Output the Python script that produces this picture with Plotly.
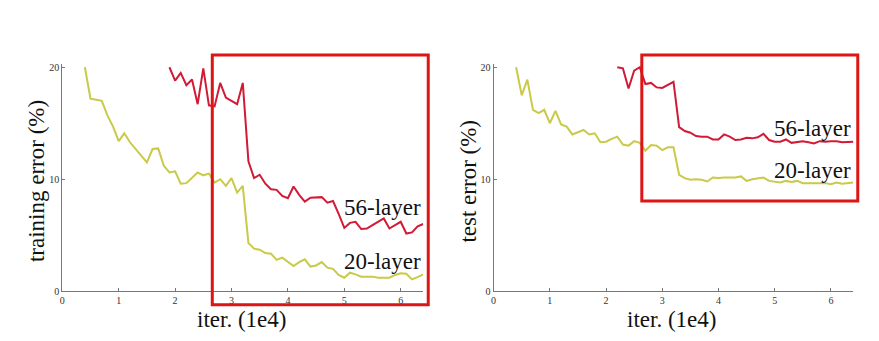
import plotly.graph_objects as go

# Iterations (x 1e4)
iters_20 = [round(0.4 + 0.1 * i, 1) for i in range(61)]      # 0.4 .. 6.4
iters_56_train = [round(1.9 + 0.1 * i, 1) for i in range(46)]  # 1.9 .. 6.4
iters_56_test = [round(2.2 + 0.1 * i, 1) for i in range(43)]   # 2.2 .. 6.4

train_20 = [20.0, 17.2, 17.1, 17.0, 15.7, 14.7, 13.4, 14.1, 13.3, 12.7,
            12.1, 11.5, 12.7, 12.75, 11.2, 10.6, 10.7, 9.6, 9.65, 10.1,
            10.6, 10.35, 10.5, 9.7, 10.0, 9.4, 10.1, 8.8, 9.4, 4.3,
            3.8, 3.7, 3.4, 3.35, 2.8, 3.0, 2.6, 2.25, 2.6, 2.85,
            2.2, 2.3, 2.6, 2.1, 2.0, 1.45, 1.2, 1.65, 1.5, 1.3,
            1.3, 1.3, 1.2, 1.2, 1.2, 1.45, 1.6, 1.55, 1.05, 1.25, 1.5]

train_56 = [20.0, 18.8, 19.5, 18.4, 18.9, 16.7, 19.9, 16.6, 16.5, 18.6,
            17.3, 17.0, 16.7, 18.6, 11.6, 10.1, 10.4, 9.6, 9.1, 9.05,
            8.5, 8.3, 9.35, 8.6, 8.0, 8.35, 8.4, 8.4, 7.9, 8.05,
            6.9, 5.65, 6.1, 6.2, 5.55, 5.6, 5.9, 6.2, 6.5, 5.6,
            5.9, 6.2, 5.15, 5.25, 5.8, 6.0]

test_20 = [20.0, 17.5, 18.9, 16.2, 15.9, 16.2, 15.0, 16.1, 14.9, 14.7,
           14.0, 14.2, 14.4, 14.0, 14.1, 13.3, 13.35, 13.6, 13.8, 13.1,
           13.0, 13.4, 13.25, 12.55, 13.05, 13.0, 12.6, 12.85, 12.85, 10.4,
           10.1, 9.95, 10.0, 9.95, 9.8, 10.15, 10.1, 10.15, 10.15, 10.15,
           10.25, 9.85, 10.0, 10.05, 10.15, 9.85, 9.8, 9.7, 9.85, 9.75,
           9.85, 9.65, 9.65, 9.65, 9.65, 9.65, 9.55, 9.7, 9.6, 9.65, 9.7]

test_56 = [20.0, 19.9, 18.1, 19.7, 20.0, 18.5, 18.6, 18.2, 18.15, 18.45,
           18.7, 14.65, 14.3, 14.15, 13.85, 13.8, 13.8, 13.55, 13.55, 14.0,
           13.8, 13.5, 13.55, 13.7, 13.65, 13.75, 14.05, 13.5, 13.35, 13.35,
           13.55, 13.25, 13.35, 13.4, 13.3, 13.2, 13.4, 13.35, 13.4, 13.4,
           13.3, 13.3, 13.35]

x_ticks = [0, 1, 2, 3, 4, 5, 6]
y_ticks = [0, 10, 20]

W, H = 879, 341
YELLOW = "#c9c94a"
RED = "#d21a36"
BOX = "#dd1515"
AXIS = "#777777"
SERIF = "Liberation Serif, Times New Roman, serif"


def px(x):
    return x / W


def py(y):
    return 1 - y / H


fig = go.Figure()

fig.add_trace(go.Scatter(x=iters_20, y=train_20, mode="lines",
                         line=dict(color=YELLOW, width=2), xaxis="x", yaxis="y"))
fig.add_trace(go.Scatter(x=iters_56_train, y=train_56, mode="lines",
                         line=dict(color=RED, width=2), xaxis="x", yaxis="y"))
fig.add_trace(go.Scatter(x=iters_20, y=test_20, mode="lines",
                         line=dict(color=YELLOW, width=2), xaxis="x2", yaxis="y2"))
fig.add_trace(go.Scatter(x=iters_56_test, y=test_56, mode="lines",
                         line=dict(color=RED, width=2), xaxis="x2", yaxis="y2"))

y_lo, y_hi = 296, 66  # pixel rows of 0 and 20
y_top_val = 20.25
y_top_px = y_lo - (y_lo - y_hi) * y_top_val / 20

axis_common = dict(showline=True, linecolor=AXIS, linewidth=1, ticks="inside",
                   ticklen=3, tickcolor=AXIS, showgrid=False, zeroline=False,
                   tickfont=dict(family=SERIF, size=10, color="#333333"))

fig.update_layout(
    width=W, height=H, margin=dict(l=0, r=0, t=0, b=0),
    paper_bgcolor="white", plot_bgcolor="white", showlegend=False,
    xaxis=dict(domain=[px(59.5), px(421.7)], range=[0, 6.4], tickvals=x_ticks,
               anchor="y", **axis_common),
    yaxis=dict(domain=[py(y_lo), py(y_top_px)], range=[0, y_top_val], tickvals=y_ticks,
               anchor="x", **axis_common),
    xaxis2=dict(domain=[px(492.3), px(853.3)], range=[0, 6.4], tickvals=x_ticks,
                anchor="y2", **axis_common),
    yaxis2=dict(domain=[py(y_lo), py(y_top_px)], range=[0, y_top_val], tickvals=y_ticks,
                anchor="x2", **axis_common),
)

title_font = dict(family=SERIF, size=23, color="#111111")
annotations = [
    dict(text="training error (%)", x=px(33), y=py(183), textangle=-90),
    dict(text="test error (%)", x=px(467), y=py(183), textangle=-90),
    dict(text="iter. (1e4)", x=px(239), y=py(325)),
    dict(text="iter. (1e4)", x=px(671), y=py(325)),
]
for a in annotations:
    fig.add_annotation(xref="paper", yref="paper", showarrow=False,
                       xanchor="center", yanchor="middle", font=title_font, **a)

labels = [
    ("56-layer", 421, 210),
    ("20-layer", 421, 265),
    ("56-layer", 853, 129),
    ("20-layer", 853, 172),
]
for text, xr, yc in labels:
    fig.add_annotation(text=text, xref="paper", yref="paper", x=px(xr), y=py(yc),
                       xanchor="right", yanchor="middle", showarrow=False,
                       font=title_font)

# Highlight boxes around the later-iteration region
for x0, x1, y0, y1 in [(210, 426.7, 53.3, 310), (641, 857.7, 53.3, 203.3)]:
    fig.add_shape(type="rect", xref="paper", yref="paper",
                  x0=px(x0), x1=px(x1), y0=py(y1), y1=py(y0),
                  line=dict(color=BOX, width=3), fillcolor="rgba(0,0,0,0)")

fig.write_html("out.html")
